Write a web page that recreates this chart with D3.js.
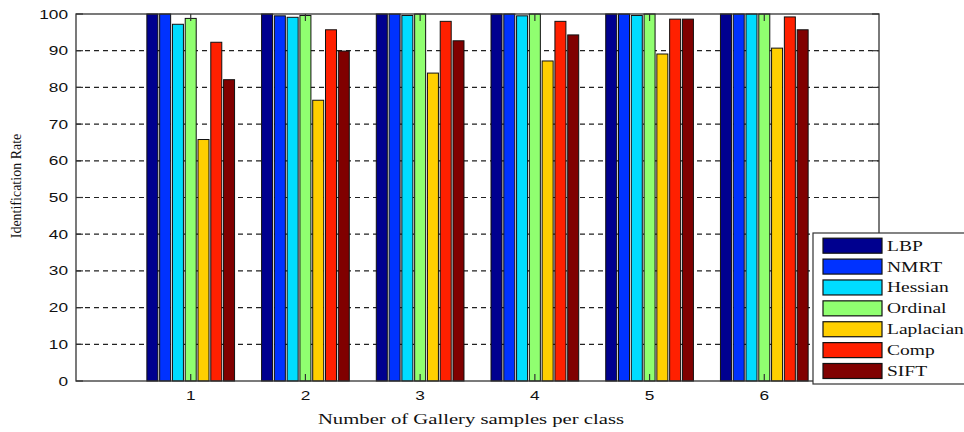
<!DOCTYPE html>
<html>
<head>
<meta charset="utf-8">
<script src="https://cdn.jsdelivr.net/npm/d3@7"></script>
<style>
  html, body { margin: 0; padding: 0; background: #fff; }
  svg { display: block; }
</style>
</head>
<body>
<svg id="chart" width="964" height="432"></svg>
<script>
// Gallery sizes (x categories) and identification rate per method
const groups = [1, 2, 3, 4, 5, 6];
const methods = ["LBP", "NMRT", "Hessian", "Ordinal", "Laplacian", "Comp", "SIFT"];
const colors = ["#00008f", "#0032ff", "#00dcff", "#90ff70", "#ffcf00", "#ff2000", "#800000"];

const lbp       = [100, 100, 100, 100, 100, 100];
const nmrt      = [100, 99.5, 100, 100, 100, 100];
const hessian   = [97.2, 99.1, 99.6, 99.5, 99.6, 100];
const ordinal   = [98.8, 99.6, 100, 100, 100, 100];
const laplacian = [65.8, 76.5, 83.9, 87.2, 89.1, 90.7];
const comp      = [92.3, 95.7, 98.0, 98.0, 98.6, 99.2];
const sift      = [82.1, 89.9, 92.7, 94.3, 98.6, 95.7];
const seriesValues = [lbp, nmrt, hessian, ordinal, laplacian, comp, sift];

const yTicks = [0, 10, 20, 30, 40, 50, 60, 70, 80, 90, 100];
const xLabel = "Number of Gallery samples per class";
const yLabel = "Identification Rate";

const svg = d3.select("#chart");
const plotL = 76, plotR = 879, plotT = 14, plotB = 381;

const x = d3.scaleLinear().domain([0, 7]).range([plotL, plotR]);
const y = d3.scaleLinear().domain([0, 100]).range([plotB, plotT]);

const unit = x(1) - x(0);
const slot = unit * 0.78 / methods.length;
const barW = slot * 0.86;
const stretch = 1.38;

// dashed grid lines behind the bars
svg.append("g").selectAll("line")
  .data(yTicks.filter(t => t > 0 && t < 100))
  .join("line")
  .attr("x1", plotL).attr("x2", plotR)
  .attr("y1", d => y(d)).attr("y2", d => y(d))
  .attr("stroke", "#222").attr("stroke-width", 1.2)
  .attr("stroke-dasharray", "5,4");

// grouped bars
const barsG = svg.append("g");
seriesValues.forEach((vals, j) => {
  barsG.append("g").selectAll("rect")
    .data(vals.map((v, i) => ({ g: groups[i], v })))
    .join("rect")
    .attr("x", d => x(d.g) + (j - (methods.length - 1) / 2) * slot - barW / 2)
    .attr("y", d => y(d.v))
    .attr("width", barW)
    .attr("height", d => y(0) - y(d.v))
    .attr("fill", colors[j])
    .attr("stroke", "#111")
    .attr("stroke-width", 1);
});

// axes box
svg.append("rect")
  .attr("x", plotL).attr("y", plotT)
  .attr("width", plotR - plotL).attr("height", plotB - plotT)
  .attr("fill", "none").attr("stroke", "#333").attr("stroke-width", 1.3);

// inward tick marks
const tickLen = 7;
const tg = svg.append("g").attr("stroke", "#333").attr("stroke-width", 1.2);
yTicks.forEach(t => {
  tg.append("line").attr("x1", plotL).attr("x2", plotL + tickLen).attr("y1", y(t)).attr("y2", y(t));
  tg.append("line").attr("x1", plotR).attr("x2", plotR - tickLen).attr("y1", y(t)).attr("y2", y(t));
});
groups.forEach(g => {
  tg.append("line").attr("x1", x(g)).attr("x2", x(g)).attr("y1", plotB).attr("y2", plotB - tickLen);
  tg.append("line").attr("x1", x(g)).attr("x2", x(g)).attr("y1", plotT).attr("y2", plotT + tickLen);
});

// tick labels
svg.append("g").selectAll("text")
  .data(yTicks)
  .join("text")
  .attr("transform", d => `translate(68,${y(d) + 4.5}) scale(${stretch},1)`)
  .attr("text-anchor", "end")
  .attr("font-family", "Liberation Sans, Arial, sans-serif")
  .attr("font-size", 12.5)
  .attr("fill", "#111")
  .text(d => d);

svg.append("g").selectAll("text")
  .data(groups)
  .join("text")
  .attr("transform", d => `translate(${x(d)},${400}) scale(${stretch},1)`)
  .attr("text-anchor", "middle")
  .attr("font-family", "Liberation Sans, Arial, sans-serif")
  .attr("font-size", 12.5)
  .attr("fill", "#111")
  .text(d => d);

// axis titles
svg.append("text")
  .attr("transform", `translate(471,424) scale(${stretch},1)`)
  .attr("text-anchor", "middle")
  .attr("font-family", "Liberation Serif, Times New Roman, serif")
  .attr("font-size", 15)
  .attr("fill", "#111")
  .text(xLabel);

svg.append("text")
  .attr("transform", `translate(21,186) rotate(-90)`)
  .attr("text-anchor", "middle")
  .attr("font-family", "Liberation Serif, Times New Roman, serif")
  .attr("font-size", 14)
  .attr("fill", "#111")
  .text(yLabel);

// legend
const lg = svg.append("g");
lg.append("rect")
  .attr("x", 813).attr("y", 233).attr("width", 170).attr("height", 151)
  .attr("fill", "#fff").attr("stroke", "#333").attr("stroke-width", 1.2);
const rowY = d3.scaleLinear().domain([0, methods.length - 1]).range([245.7, 371]);
methods.forEach((m, j) => {
  lg.append("rect")
    .attr("x", 823).attr("y", rowY(j) - 7.5)
    .attr("width", 59).attr("height", 15)
    .attr("fill", colors[j]).attr("stroke", "#111").attr("stroke-width", 1.2);
  lg.append("text")
    .attr("transform", `translate(887,${rowY(j) + 5}) scale(1.3,1)`)
    .attr("font-family", "Liberation Serif, Times New Roman, serif")
    .attr("font-size", 15)
    .attr("fill", "#111")
    .text(m);
});
</script>
</body>
</html>
